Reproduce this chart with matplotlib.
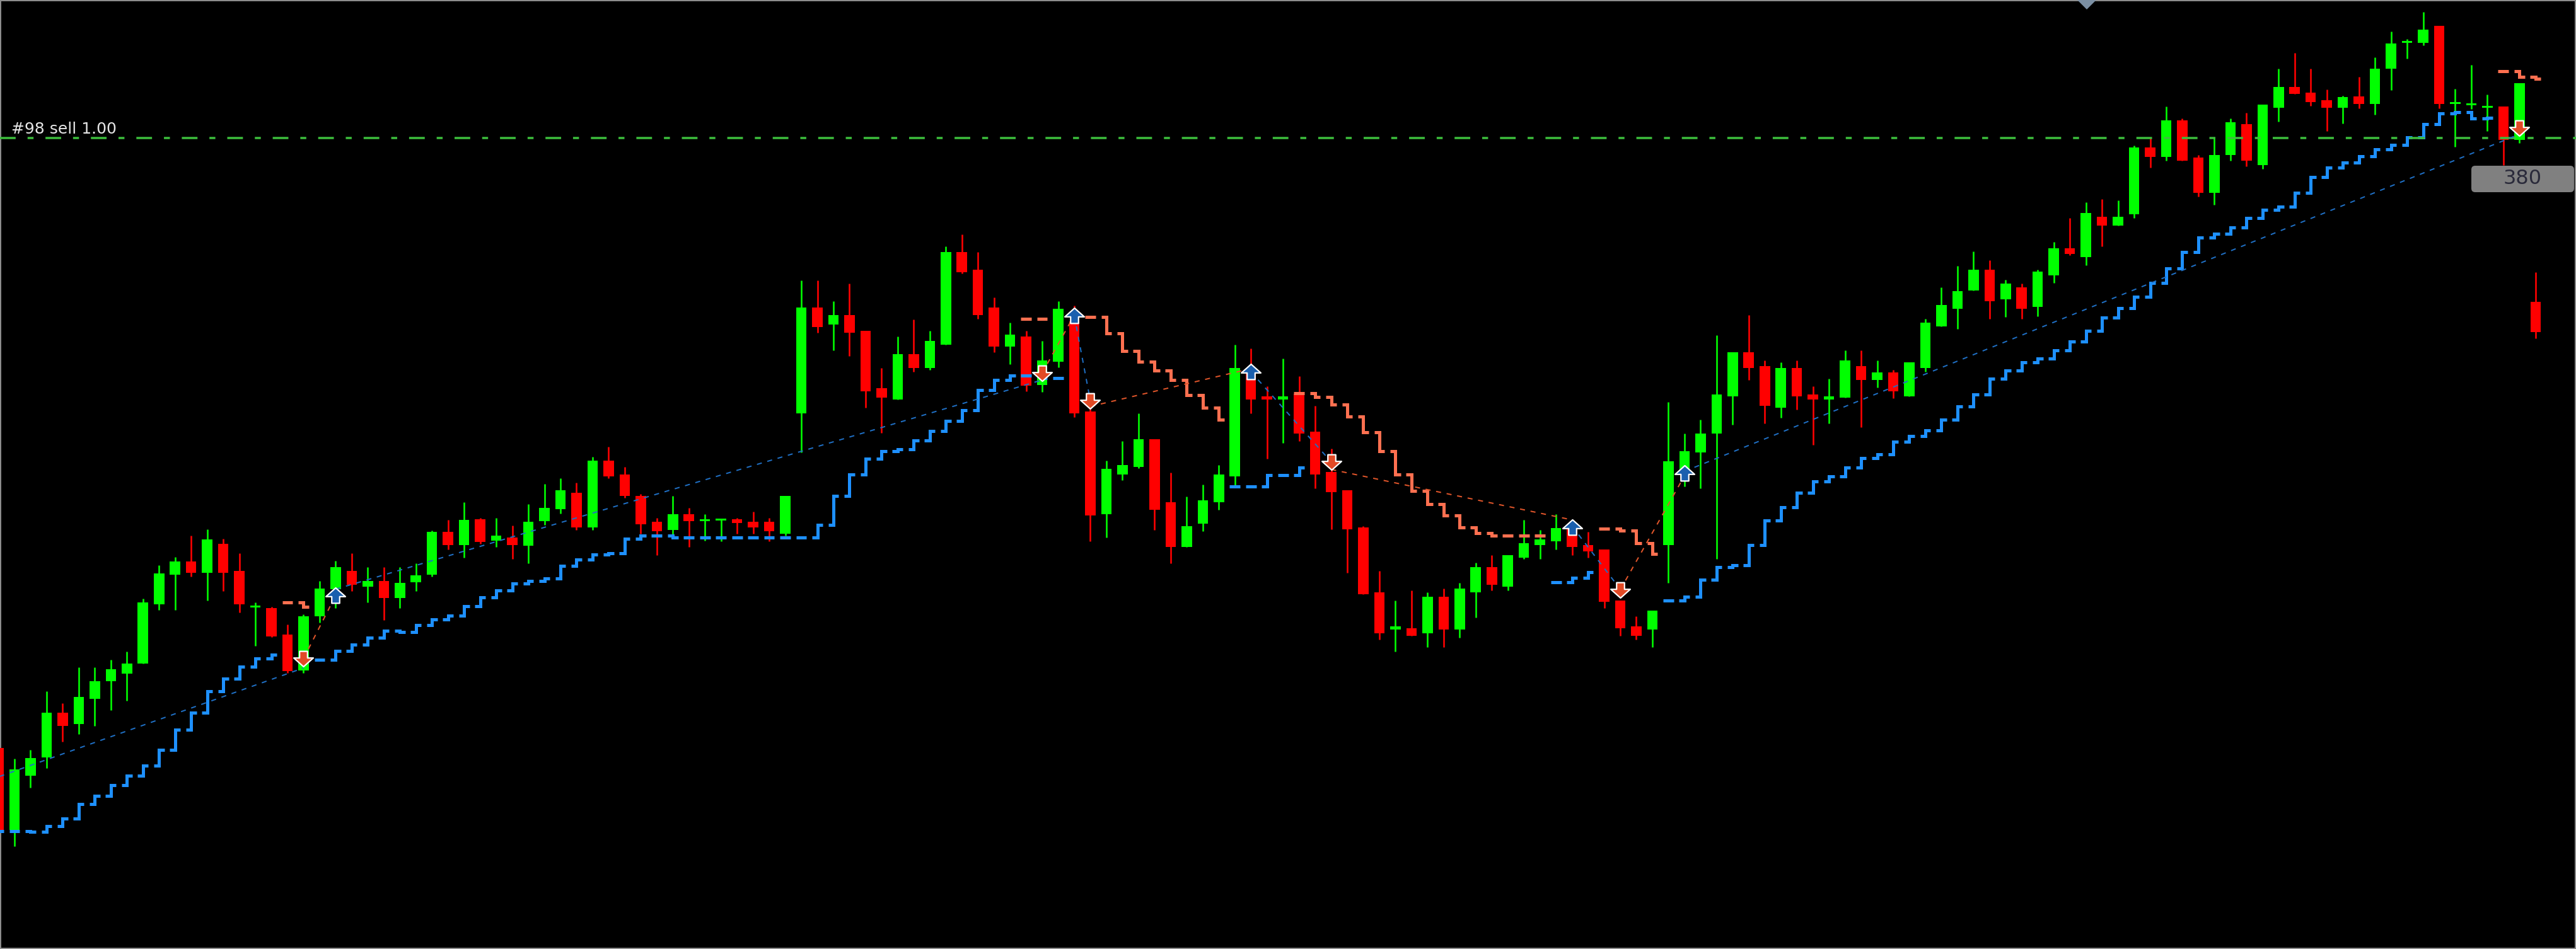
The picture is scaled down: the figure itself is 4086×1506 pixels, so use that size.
import numpy as np
import matplotlib
matplotlib.use("Agg")
import matplotlib.pyplot as plt
from matplotlib.path import Path
from matplotlib.collections import LineCollection
from matplotlib.patches import FancyBboxPatch, Polygon
from matplotlib.transforms import IdentityTransform

nan = np.nan

# ---- candle data: bar -1 is the partly hidden bar on the left edge ----
first_bar = -1
opens = [313, 183, 269, 298, 369, 351, 391, 419, 431, 447,
         541, 588, 609, 591, 637, 594, 536, 535, 493, 436,
         522, 565, 594, 569, 578, 551, 576, 588, 656, 635,
         676, 642, 647, 634, 673, 692, 718, 663, 769, 747,
         713, 672, 659, 684, 673, 674, 676, 672, 672, 653,
         844, 1012, 985, 1000, 975, 884, 866, 938, 916, 953,
         1100, 1072, 1012, 950, 966, 889, 926, 990, 847, 684,
         747, 759, 803, 703, 632, 669, 703, 744, 916, 871,
         866, 875, 815, 751, 722, 663, 560, 501, 503, 495,
         553, 501, 560, 600, 569, 615, 635, 641, 663, 635,
         628, 547, 506, 501, 635, 750, 782, 812, 871, 941,
         919, 853, 916, 874, 866, 869, 919, 897, 909, 871,
         916, 982, 1010, 1039, 1072, 1025, 1044, 1013, 1063, 1106,
         1092, 1156, 1142, 1160, 1266, 1251, 1309, 1250, 1194, 1254,
         1303, 1238, 1329, 1362, 1353, 1341, 1329, 1347, 1335, 1391,
         1432, 1432, 1459, 1335, 1333, 1329, 1331, 1278, 1021]
highs = [320, 296, 310, 403, 384, 441, 441, 453, 466, 550,
         603, 616, 650, 660, 645, 622, 544, 537, 509, 525,
         578, 610, 622, 600, 600, 600, 606, 658, 675, 703,
         678, 678, 666, 700, 732, 741, 734, 775, 791, 759,
         716, 678, 713, 694, 684, 675, 678, 688, 678, 713,
         1055, 1055, 1022, 1050, 975, 916, 966, 993, 975, 1109,
         1128, 1100, 1028, 988, 975, 959, 1022, 1015, 866, 769,
         800, 844, 803, 750, 712, 731, 762, 953, 947, 887,
         931, 903, 856, 788, 722, 665, 594, 547, 563, 560,
         566, 575, 607, 619, 619, 675, 659, 684, 675, 656,
         628, 547, 522, 531, 862, 812, 834, 968, 941, 1000,
         928, 925, 928, 887, 899, 944, 944, 928, 913, 925,
         994, 1044, 1078, 1101, 1087, 1056, 1050, 1072, 1116, 1154,
         1179, 1184, 1182, 1269, 1281, 1331, 1312, 1254, 1281, 1312,
         1321, 1334, 1391, 1416, 1391, 1358, 1348, 1378, 1409, 1450,
         1438, 1481, 1459, 1359, 1397, 1350, 1331, 1368, 1068]
lows = [180, 157, 250, 281, 323, 335, 348, 373, 388, 447,
        532, 532, 585, 547, 562, 528, 475, 489, 432, 432,
        512, 535, 562, 544, 516, 535, 562, 585, 628, 615,
        637, 632, 613, 606, 667, 685, 659, 659, 741, 710,
        653, 619, 650, 632, 642, 641, 653, 653, 641, 650,
        782, 972, 944, 935, 853, 813, 866, 910, 913, 953,
        1066, 994, 941, 922, 879, 878, 917, 838, 641, 647,
        738, 757, 659, 606, 632, 657, 691, 728, 844, 772,
        797, 800, 725, 660, 591, 557, 485, 466, 491, 473,
        473, 488, 520, 563, 563, 613, 613, 628, 619, 615,
        535, 491, 485, 473, 575, 728, 725, 613, 826, 897,
        828, 837, 850, 794, 828, 869, 822, 885, 868, 871,
        910, 982, 978, 1039, 994, 997, 994, 998, 1051, 1095,
        1079, 1109, 1142, 1154, 1234, 1245, 1245, 1188, 1175, 1245,
        1236, 1232, 1307, 1351, 1332, 1292, 1304, 1328, 1318, 1357,
        1407, 1428, 1328, 1267, 1327, 1292, 1238, 1273, 963]
closes = [183, 279, 297, 369, 348, 394, 419, 438, 447, 544,
          590, 609, 591, 644, 591, 541, 538, 490, 435, 522,
          566, 600, 572, 578, 551, 575, 587, 656, 635, 675,
          640, 650, 635, 672, 694, 722, 663, 769, 744, 713,
          668, 657, 684, 673, 675, 675, 670, 663, 657, 713,
          1012, 981, 1000, 972, 879, 869, 938, 916, 959, 1100,
          1068, 1000, 950, 969, 888, 928, 1010, 844, 682, 756,
          762, 803, 691, 632, 665, 706, 747, 916, 866, 866,
          871, 812, 747, 719, 660, 557, 495, 506, 491, 553,
          501, 566, 600, 572, 619, 638, 644, 662, 632, 625,
          545, 503, 491, 531, 768, 784, 812, 874, 941, 916,
          856, 916, 871, 866, 871, 928, 897, 909, 879, 925,
          988, 1016, 1038, 1072, 1022, 1050, 1010, 1069, 1106, 1097,
          1162, 1142, 1156, 1266, 1251, 1309, 1245, 1194, 1254, 1306,
          1245, 1334, 1362, 1351, 1338, 1329, 1346, 1335, 1391, 1431,
          1434, 1453, 1335, 1337, 1335, 1331, 1278, 1368, 973]

# trailing stop steps (lower = blue, upper = orange), nan where not drawn
lower_stop = [181, 181, 180, 189, 201, 224, 237, 254, 269, 285,
              310, 342, 369, 403, 423, 442, 455, 461, nan, nan,
              453, 467, 477, 488, 499, 497, 508, 517, 523, 538,
              552, 563, 574, 578, 582, 602, 612, 620, 622, 645,
              650, 650, 647, 647, 647, 647, 647, 647, 647, 647,
              647, 667, 713, 747, 772, 784, 787, 801, 816, 832,
              849, 881, 897, 904, 904, 900, 900, nan, nan, nan,
              nan, nan, nan, nan, nan, nan, nan, 728, 728, 746,
              746, 758, nan, nan, nan, nan, nan, nan, nan, nan,
              nan, nan, nan, nan, nan, nan, nan, 576, 583, 592,
              nan, nan, nan, nan, 547, 553, 580, 600, 603, 635,
              674, 695, 718, 736, 744, 758, 773, 779, 799, 808,
              817, 834, 855, 874, 899, 912, 925, 931, 944, 958,
              975, 996, 1011, 1029, 1051, 1074, 1100, 1123, 1129, 1139,
              1154, 1167, 1172, 1194, 1219, 1234, 1242, 1252, 1263, 1270,
              1282, 1303, 1320, 1322, 1312, 1313, nan, nan, nan]
upper_stop = [nan] * 18 + [544, 537] + [nan] * 44 + \
             [994, 994, nan, nan, 997, 971, 943, 926, 912, 897, 873, 853, 834] + \
             [nan] * 4 + \
             [876, 870, 858, 839, 814, 784, 747, 721, 700, 682, 663, 654, 650, 650, 650, 650] + \
             [nan] * 3 + [661, 658, 638, 621] + [nan] * 52 + [1387, 1378, 1375]

# closed trades: open bar/price -> close bar/price
trade_side = ["buy", "sell", "buy", "sell", "buy", "sell", "buy", "sell", "buy", "sell", "buy"]
trade_x0 = [-3, 18, 20, 64, 66, 67, 77, 82, 97, 100, 104]
trade_p0 = [249, 455, 565, 908, 999, 855, 910, 755, 665, 564, 752]
trade_x1 = [18, 20, 64, 66, 67, 77, 82, 97, 100, 104, 156]
trade_p1 = [440, 555, 897, 1000, 864, 915, 767, 675, 565, 745, 1287]

sell_arrow_x = [18, 64, 67, 82, 100, 156]
sell_arrow_p = [455, 908, 864, 767, 564, 1297]
buy_arrow_x = [20, 66, 77, 97, 104]
buy_arrow_p = [555, 999, 910, 663, 749]

order_price = 1281
order_label = "#98 sell 1.00"
badge_text = "380"

# ---- figure ----
W, H = 4086, 1506
PX = 0.72  # points per pixel at dpi 100
fig = plt.figure(figsize=(W / 100, H / 100), dpi=100, facecolor="black")
ax = fig.add_axes([0, 0, 1, 1], facecolor="black")

x = np.arange(first_bar, first_bar + len(opens))
o, h, l, c = (np.array(a, float) for a in (opens, highs, lows, closes))

bull = c >= o
col = np.where(bull, "#00ff00", "#ff0000")
ax.vlines(x, l, h, colors=col, linewidth=2.6 * PX, zorder=2)
ax.bar(x, np.maximum(np.abs(c - o), 3), bottom=np.minimum(o, c), width=0.65,
       color=col, linewidth=0, zorder=3)


def step_dashes(levels, color):
    lv = np.array(levels, float)
    segs = []
    for k in range(len(x)):
        if np.isnan(lv[k]):
            continue
        prev = lv[k - 1] if k > 0 and not np.isnan(lv[k - 1]) else lv[k]
        segs.append([(x[k] - 0.33, prev), (x[k], prev), (x[k], lv[k]), (x[k] + 0.33, lv[k])])
    ax.add_collection(LineCollection(segs, colors=color, linewidths=5 * PX,
                                     capstyle="butt", joinstyle="miter", zorder=4))


step_dashes(lower_stop, "#1e90ff")
step_dashes(upper_stop, "#ff7050")

# trade connection lines
for side, x0, p0, x1, p1 in zip(trade_side, trade_x0, trade_p0, trade_x1, trade_p1):
    ax.plot([x0, x1], [p0, p1], color="#1f6fc4" if side == "buy" else "#e0552a",
            lw=2 * PX, dashes=(4, 4.5), zorder=5)

# arrows: wide head, short shaft
down = Path([(-0.19, 0.36), (0.19, 0.36), (0.19, 0.04), (0.47, 0.04), (0, -0.38),
             (-0.47, 0.04), (-0.19, 0.04), (-0.19, 0.36)], closed=True)
up = Path([(vx, -vy) for vx, vy in down.vertices], closed=True)
ax.plot(sell_arrow_x, sell_arrow_p, ls="none", marker=down, ms=31 * PX,
        mfc="#e24a26", mec="white", mew=2.2 * PX, zorder=6)
ax.plot(buy_arrow_x, buy_arrow_p, ls="none", marker=up, ms=31 * PX,
        mfc="#1a5fae", mec="white", mew=2.2 * PX, zorder=6)

# open order level
ax.axhline(order_price, color="#3cbe3c", lw=3.5 * PX, dashes=(7.1, 5.4, 2.7, 5.4), zorder=4)
ax.text(18 / W, order_price + 7, order_label, transform=ax.get_yaxis_transform(),
        color="#e6e6e6", fontsize=18, va="baseline", ha="left", zorder=7)

# price badge and chart-shift marker
ax.add_patch(FancyBboxPatch((3920, H - 305), 163, 42, boxstyle="round,pad=0,rounding_size=6",
                            transform=IdentityTransform(), fc="#808080", ec="none", zorder=7))
ax.text(4001, H - 284, badge_text, transform=IdentityTransform(), ha="center", va="center",
        fontsize=23, color="#2a2a3a", zorder=8)
ax.add_patch(Polygon([(3295, H), (3325, H), (3310, H - 15)], closed=True,
                     transform=IdentityTransform(), fc="#7b8fa3", ec="none", zorder=8))

ax.set_xlim((0 - 23) / 25.47, (W - 23) / 25.47)
ax.set_ylim(-6, 1500)
ax.set_xticks([])
ax.set_yticks([])
for s in ax.spines.values():
    s.set_color("#8c8c8c")
    s.set_linewidth(4 * PX)

fig.savefig("out.png", dpi=100, facecolor="black")
